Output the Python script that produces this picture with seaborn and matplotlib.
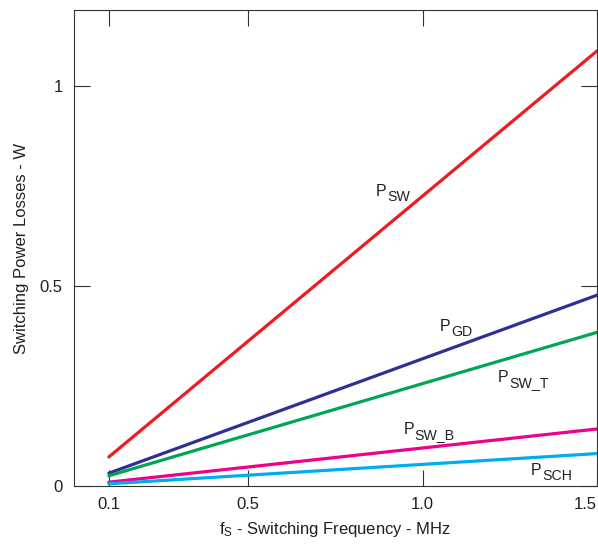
import pandas as pd
import seaborn as sns
import matplotlib.pyplot as plt

# --- DATA ---
freq_mhz = [0.1, 1.5]
p_sw = [0.0725, 1.0875]
p_gd = [0.032, 0.477]
p_sw_t = [0.0255, 0.384]
p_sw_b = [0.0095, 0.1425]
p_sch = [0.0054, 0.081]

series_names = ['PSW', 'PGD', 'PSW_T', 'PSW_B', 'PSCH']
label_subs = ['SW', 'GD', 'SW_T', 'SW_B', 'SCH']
label_x = [0.866, 1.050, 1.216, 0.946, 1.311]
label_y = [0.724, 0.387, 0.259, 0.131, 0.028]

x_ticks = [0.1, 0.5, 1.0, 1.5]
x_tick_labels = ['0.1', '0.5', '1.0', '1.5']
y_ticks = [0, 0.5, 1]
y_tick_labels = ['0', '0.5', '1']

colors = {'PSW': '#ED1C24', 'PGD': '#2E3192', 'PSW_T': '#00A651',
          'PSW_B': '#EC008C', 'PSCH': '#00AEEF'}

df = pd.DataFrame({
    'freq': freq_mhz * 5,
    'loss': p_sw + p_gd + p_sw_t + p_sw_b + p_sch,
    'series': [n for n in series_names for _ in freq_mhz],
})

# --- PLOT ---
sns.set_theme(style="ticks")
plt.rcParams['font.family'] = ['Liberation Sans', 'DejaVu Sans']
plt.rcParams['mathtext.fontset'] = 'custom'
plt.rcParams['mathtext.rm'] = 'Liberation Sans'

fig = plt.figure(figsize=(5.98, 5.45), dpi=100)
ax = fig.add_axes([0.1237, 0.1083, 0.8746, 0.8734])

sns.lineplot(data=df, x='freq', y='loss', hue='series', palette=colors,
             linewidth=2.3, legend=False, ax=ax)

# curve labels: "P" plus a lowered subscript
txt_color = '#231F20'
for sub, lx, ly in zip(label_subs, label_x, label_y):
    ax.text(lx, ly, 'P', fontsize=11.5, color=txt_color, ha='left', va='baseline')
    ax.annotate(sub, (lx, ly), xytext=(7.9, -3.6), textcoords='offset points',
                fontsize=10.2, color=txt_color, ha='left', va='baseline')

ax.set_xlim(0, 1.49)
ax.set_ylim(0, 1.19)
ax.set_xticks(x_ticks)
ax.set_xticklabels(x_tick_labels)
ax.set_yticks(y_ticks)
ax.set_yticklabels(y_tick_labels)
ax.tick_params(direction='in', length=11.5, width=0.8, color='#333333',
               top=True, right=True, labelsize=12, labelcolor=txt_color, pad=8)
ax.get_xticklabels()[-1].set_horizontalalignment('right')
for sp in ax.spines.values():
    sp.set_visible(True)
    sp.set_color('#333333')
    sp.set_linewidth(0.8)

ax.set_xlabel(r'$\mathregular{f_S}$ - Switching Frequency - MHz', fontsize=12,
              color=txt_color, labelpad=6)
ax.set_ylabel('Switching Power Losses - W', fontsize=12, color=txt_color,
              labelpad=8)

fig.savefig('out.png', dpi=100)
